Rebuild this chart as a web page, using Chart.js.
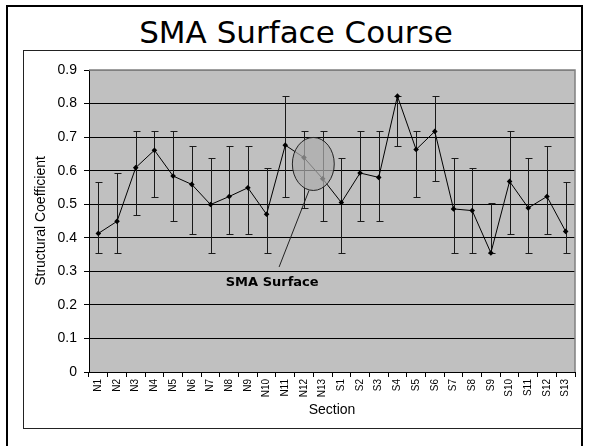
<!DOCTYPE html>
<html>
<head>
<meta charset="utf-8">
<script src="https://cdn.jsdelivr.net/npm/chart.js@4.4.1/dist/chart.umd.min.js"></script>
<style>
  html, body { margin: 0; padding: 0; background: #fff; width: 592px; height: 446px; overflow: hidden; }
  #outer { position: absolute; left: 6px; top: 5px; width: 573px; height: 460px; border: 2px solid #000; }
  #inner { position: absolute; left: 23px; top: 50px; width: 557px; height: 377px; border: 1px solid #222; }
  #title { position: absolute; left: 0; top: 16px; width: 592px; text-align: center; line-height: 32px;
           font-family: "Comic Sans MS", "DejaVu Sans", sans-serif; font-size: 31px; color: #000; }
  canvas { position: absolute; left: 0; top: 0; }
</style>
</head>
<body>
<div id="outer"></div>
<div id="inner"></div>
<div id="title">SMA Surface Course</div>
<canvas id="chart" width="592" height="446"></canvas>
<script>
// ─── Data ────────────────────────────────────────────────────────────────────

const sections = [
  "N1", "N2", "N3", "N4", "N5", "N6", "N7", "N8", "N9", "N10", "N11", "N12", "N13",
  "S1", "S2", "S3", "S4", "S5", "S6", "S7", "S8", "S9", "S10", "S11", "S12", "S13"
];

const coefficient = [
  0.413, 0.449, 0.609, 0.661, 0.584, 0.559, 0.499, 0.523, 0.549, 0.470, 0.676, 0.639, 0.576,
  0.505, 0.593, 0.580, 0.822, 0.663, 0.717, 0.486, 0.481, 0.355, 0.568, 0.489, 0.523, 0.419
];

const upperLimit = [
  0.566, 0.593, 0.717, 0.717, 0.717, 0.675, 0.639, 0.675, 0.675, 0.608, 0.822, 0.717, 0.717,
  0.639, 0.717, 0.717, 0.822, 0.717, 0.822, 0.639, 0.608, 0.503, 0.717, 0.639, 0.675, 0.567
];

const lowerLimit = [
  0.355, 0.355, 0.469, 0.523, 0.449, 0.412, 0.355, 0.412, 0.412, 0.355, 0.523, 0.489, 0.449,
  0.355, 0.449, 0.449, 0.675, 0.523, 0.568, 0.355, 0.355, 0.355, 0.412, 0.355, 0.412, 0.355
];

const yTicks = [0, 0.1, 0.2, 0.3, 0.4, 0.5, 0.6, 0.7, 0.8, 0.9];

// callout: ellipse around N12/N13 and its label (category index, value)
const calloutText   = "SMA Surface";
const calloutCenter = [11.5, 0.62];
const calloutRadius = [1.12, 0.079];
const calloutLeader = [[11.27, 0.541], [9.67, 0.313]];
const calloutLabel  = [9.3, 0.265];

// ─── Plugins ─────────────────────────────────────────────────────────────────

const plotBackground = {
  id: "plotBackground",
  beforeDraw(chart) {
    const { ctx, chartArea: a } = chart;
    ctx.save();
    ctx.fillStyle = "#c0c0c0";
    ctx.fillRect(a.left, a.top, a.right - a.left, a.bottom - a.top);
    ctx.restore();
  },
  beforeDatasetsDraw(chart) {
    const { ctx, chartArea: a } = chart;
    ctx.save();
    ctx.strokeStyle = "#808080";
    ctx.lineWidth = 1.5;
    ctx.beginPath();
    ctx.moveTo(a.left, a.top);
    ctx.lineTo(a.right, a.top);
    ctx.lineTo(a.right, a.bottom);
    ctx.stroke();
    ctx.restore();
  }
};

const errorBars = {
  id: "errorBars",
  beforeDatasetsDraw(chart) {
    const { ctx, scales: { x, y } } = chart;
    ctx.save();
    ctx.strokeStyle = "#1a1a1a";
    ctx.lineWidth = 1;
    sections.forEach((s, i) => {
      const px = Math.round(x.getPixelForValue(i)) + 0.5;
      const top = Math.round(y.getPixelForValue(upperLimit[i])) + 0.5;
      const bot = Math.round(y.getPixelForValue(lowerLimit[i])) + 0.5;
      ctx.beginPath();
      ctx.moveTo(px, top); ctx.lineTo(px, bot);
      ctx.moveTo(px - 3, top); ctx.lineTo(px + 4, top);
      ctx.moveTo(px - 3, bot); ctx.lineTo(px + 4, bot);
      ctx.stroke();
    });
    ctx.restore();
  }
};

const callout = {
  id: "callout",
  afterDatasetsDraw(chart) {
    const { ctx, scales: { x, y } } = chart;
    const cx = x.getPixelForValue(calloutCenter[0]);
    const cy = y.getPixelForValue(calloutCenter[1]);
    const rx = x.getPixelForValue(calloutCenter[0] + calloutRadius[0]) - cx;
    const ry = cy - y.getPixelForValue(calloutCenter[1] + calloutRadius[1]);
    ctx.save();
    ctx.beginPath();
    ctx.ellipse(cx, cy, rx, ry, 0, 0, Math.PI * 2);
    ctx.fillStyle = "rgba(172,172,172,0.72)";
    ctx.fill();
    ctx.strokeStyle = "#222";
    ctx.lineWidth = 1;
    ctx.stroke();

    ctx.beginPath();
    ctx.moveTo(x.getPixelForValue(calloutLeader[0][0]), y.getPixelForValue(calloutLeader[0][1]));
    ctx.lineTo(x.getPixelForValue(calloutLeader[1][0]), y.getPixelForValue(calloutLeader[1][1]));
    ctx.stroke();

    ctx.fillStyle = "#000";
    ctx.font = 'bold 13px "Comic Sans MS", "DejaVu Sans", sans-serif';
    ctx.textAlign = "center";
    ctx.textBaseline = "middle";
    ctx.fillText(calloutText, x.getPixelForValue(calloutLabel[0]), y.getPixelForValue(calloutLabel[1]));
    ctx.restore();
  }
};

// ─── Chart ───────────────────────────────────────────────────────────────────

Chart.defaults.font.family = '"Liberation Sans", Arial, sans-serif';
Chart.defaults.color = "#000";

new Chart(document.getElementById("chart"), {
  type: "line",
  data: {
    labels: sections,
    datasets: [{
      label: "Structural Coefficient",
      data: coefficient,
      borderColor: "#000",
      borderWidth: 1,
      backgroundColor: "#000",
      pointStyle: "rectRot",
      pointRadius: 2.8,
      pointBorderWidth: 0,
      tension: 0
    }]
  },
  options: {
    responsive: false,
    animation: false,
    events: [],
    layout: { padding: { left: 24, right: 17, top: 70, bottom: 17 } },
    plugins: {
      legend: { display: false },
      tooltip: { enabled: false }
    },
    scales: {
      x: {
        offset: true,
        grid: { offset: true, drawOnChartArea: false, drawTicks: true, tickLength: 5, color: "#000" },
        border: { display: true, color: "#000", width: 1 },
        ticks: { minRotation: 90, maxRotation: 90, autoSkip: false, padding: 2, font: { size: 10 } },
        title: { display: true, text: "Section", font: { size: 14 }, padding: { top: 0, bottom: 10 } },
        afterFit: (scale) => { scale.height = 57; }
      },
      y: {
        min: 0,
        max: 0.9,
        afterBuildTicks: (scale) => { scale.ticks = yTicks.map(v => ({ value: v })); },
        grid: {
          color: (c) => c.tick && c.tick.value === 0.9 ? "#808080" : "#000",
          tickLength: 5,
          tickColor: "#000"
        },
        border: { display: true, color: "#000", width: 1 },
        ticks: {
          padding: 7,
          font: { size: 14 },
          callback: (v) => v === 0 ? "0" : v.toFixed(1)
        },
        title: { display: true, text: "Structural Coefficient", font: { size: 14 }, padding: { top: 9, bottom: 0 } },
        afterFit: (scale) => { scale.width = 65; }
      }
    }
  },
  plugins: [plotBackground, errorBars, callout]
});
</script>
</body>
</html>
